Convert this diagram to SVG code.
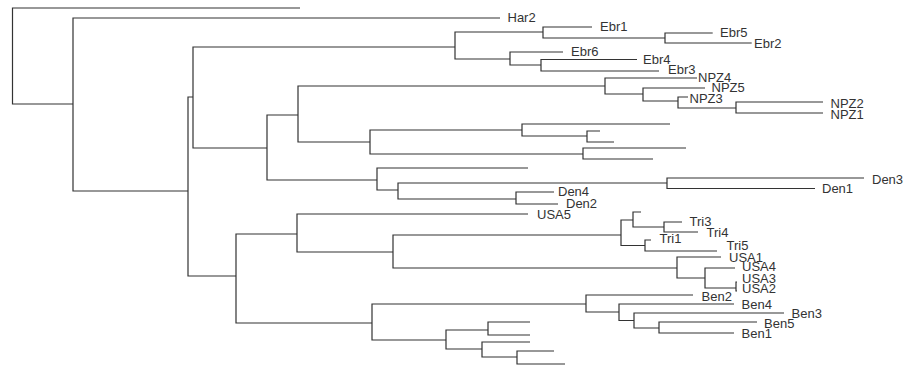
<svg xmlns="http://www.w3.org/2000/svg" width="913" height="368" viewBox="0 0 913 368">
<style>
.br{fill:none;stroke:#333;stroke-width:1.2;stroke-linecap:butt;stroke-linejoin:miter}
.lb{font-family:"Liberation Sans",Arial,sans-serif;font-size:13px;fill:#333}
</style>
<rect width="913" height="368" fill="#fff"/>
<g id="connectors" class="br">
<path d="M300,8 H12.5 V104 H73"/>
<path d="M500,18 H73 V191 H188"/>
<path d="M193,97 H188 V276 H236"/>
<path d="M455,47 H193 V148 H267"/>
<path d="M543,32 H455 V59 H510"/>
<path d="M592,27 H543 V38 H665"/>
<path d="M712.7,33 H665 V43 H751.7"/>
<path d="M563,52 H510 V65 H541"/>
<path d="M637,59.5 H541 V71 H659"/>
<path d="M298,115 H267 V180 H377"/>
<path d="M605,86 H298 V142 H370"/>
<path d="M697,78 H605 V94 H643"/>
<path d="M705,88 H643 V101 H678"/>
<path d="M688,97 H678 V108 H736"/>
<path d="M823,102 H736 V113 H823"/>
<path d="M522,130 H370 V154 H583"/>
<path d="M670,124 H522 V136 H587"/>
<path d="M600,131 H587 V142 H614"/>
<path d="M686,148 H583 V159 H653"/>
<path d="M528,168 H377 V190 H398"/>
<path d="M667,183 H398 V199 H516"/>
<path d="M864,178 H667 V188.5 H815"/>
<path d="M554,192 H516 V204 H558"/>
<path d="M297,234 H236 V323 H372"/>
<path d="M528,214 H297 V252 H393"/>
<path d="M621,235 H393 V268 H677"/>
<path d="M633,220 H621 V245.5 H645"/>
<path d="M641,212 H633 V227 H664"/>
<path d="M682,222 H664 V232 H698"/>
<path d="M651,240 H645 V251 H717"/>
<path d="M721,257 H677 V278 H705"/>
<path d="M735,268 H705 V288 H736"/>
<path d="M737,282 H736 V291 H737"/>
<path d="M586,304 H372 V340 H446"/>
<path d="M693,295 H586 V312 H619"/>
<path d="M734,304 H619 V320.5 H634"/>
<path d="M784,313 H634 V328 H659"/>
<path d="M757,322 H659 V333 H734"/>
<path d="M488,330 H446 V349 H482"/>
<path d="M530,322 H488 V335 H530"/>
<path d="M530,342 H482 V357 H517"/>
<path d="M554,351 H517 V364 H565"/>
</g>
<g id="Har2"><text class="lb" x="507.5" y="21.5">Har2</text></g>
<g id="Ebr1"><text class="lb" x="600" y="31">Ebr1</text></g>
<g id="Ebr5"><text class="lb" x="720" y="37">Ebr5</text></g>
<g id="Ebr2"><text class="lb" x="754" y="47.5">Ebr2</text></g>
<g id="Ebr6"><text class="lb" x="571" y="56">Ebr6</text></g>
<g id="Ebr4"><text class="lb" x="643" y="64">Ebr4</text></g>
<g id="Ebr3"><text class="lb" x="668" y="74">Ebr3</text></g>
<g id="NPZ4"><text class="lb" x="698" y="81.5">NPZ4</text></g>
<g id="NPZ5"><text class="lb" x="711.5" y="91.5">NPZ5</text></g>
<g id="NPZ3"><text class="lb" x="689.5" y="102.5">NPZ3</text></g>
<g id="NPZ2"><text class="lb" x="830.5" y="107.5">NPZ2</text></g>
<g id="NPZ1"><text class="lb" x="830.5" y="119">NPZ1</text></g>
<g id="Den3"><text class="lb" x="872" y="184">Den3</text></g>
<g id="Den1"><text class="lb" x="822" y="193">Den1</text></g>
<g id="Den4"><text class="lb" x="558" y="196">Den4</text></g>
<g id="Den2"><text class="lb" x="566" y="208">Den2</text></g>
<g id="USA5"><text class="lb" x="537" y="218.5">USA5</text></g>
<g id="Tri3"><text class="lb" x="689.5" y="226">Tri3</text></g>
<g id="Tri4"><text class="lb" x="706.5" y="236.5">Tri4</text></g>
<g id="Tri1"><text class="lb" x="659.5" y="243">Tri1</text></g>
<g id="Tri5"><text class="lb" x="726.5" y="250">Tri5</text></g>
<g id="USA1"><text class="lb" x="729" y="261.5">USA1</text></g>
<g id="USA4"><text class="lb" x="742" y="271">USA4</text></g>
<g id="USA3"><text class="lb" x="742" y="282.5">USA3</text></g>
<g id="USA2"><text class="lb" x="742" y="292.5">USA2</text></g>
<g id="Ben2"><text class="lb" x="701.5" y="300.5">Ben2</text></g>
<g id="Ben4"><text class="lb" x="741.5" y="308.5">Ben4</text></g>
<g id="Ben3"><text class="lb" x="791.5" y="317.5">Ben3</text></g>
<g id="Ben5"><text class="lb" x="764" y="327.5">Ben5</text></g>
<g id="Ben1"><text class="lb" x="741.5" y="337.5">Ben1</text></g>
</svg>
